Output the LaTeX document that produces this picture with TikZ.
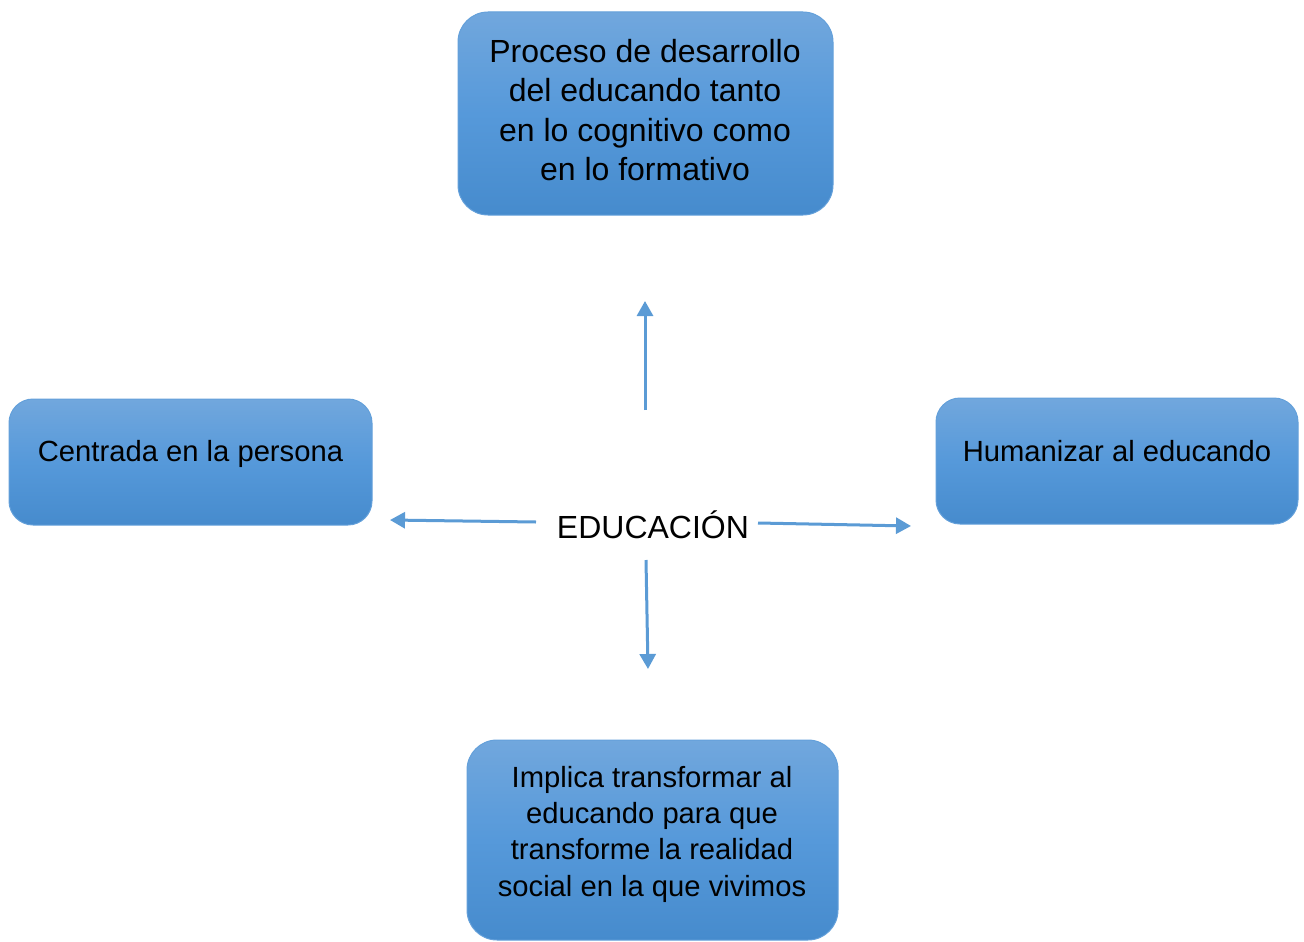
\documentclass[tikz,border=0pt]{standalone}
\usepackage{fontspec}
\setmainfont{Liberation Sans}
\usetikzlibrary{arrows.meta}
\definecolor{boxtop}{RGB}{113,167,221}
\definecolor{boxmid}{RGB}{86,153,218}
\definecolor{boxbot}{RGB}{70,139,205}
\definecolor{boxline}{RGB}{100,160,218}
\definecolor{arrowblue}{RGB}{91,155,213}
\tikzset{
  bluebox/.style={draw=boxline, line width=1pt, rounded corners=#1, top color=boxtop, bottom color=boxbot, middle color=boxmid, inner sep=0pt},
  bigtext/.style={align=center, font=\fontsize{32}{39.3}\selectfont, inner sep=0pt},
  smalltext/.style={align=center, font=\fontsize{29.2}{36.3}\selectfont, inner sep=0pt},
  conn/.style={draw=arrowblue, line width=3pt, -{Triangle[length=15pt,width=16pt]}}
}
\begin{document}
\begin{tikzpicture}[x=1pt,y=-1pt]
\useasboundingbox (0,0) rectangle (1304,942);
% boxes
\node[bluebox=30pt, minimum width=375pt, minimum height=203pt] (topbox) at (645.5,113.5) {};
\node[bluebox=24pt, minimum width=363pt, minimum height=126pt] (leftbox) at (190.5,462) {};
\node[bluebox=24pt, minimum width=362pt, minimum height=126pt] (rightbox) at (1117,461) {};
\node[bluebox=30pt, minimum width=371pt, minimum height=200pt] (botbox) at (652.5,840) {};
% texts
\node[bigtext] (toptext) at (645,110) {Proceso de desarrollo\\del educando tanto\\en lo cognitivo como\\en lo formativo};
\node[smalltext] (lefttext) at (190.5,454) {Centrada en la persona};
\node[smalltext] (righttext) at (1117,451.5) {Humanizar al educando};
\node[smalltext] (bottext) at (652,834) {Implica transformar al\\educando para que\\transforme la realidad\\social en la que vivimos};
\node[font=\fontsize{32}{38}\selectfont, inner sep=0pt] (edu) at (653,525) {EDUCACIÓN};
% arrow ends
\coordinate (upA) at (645,410);
\coordinate (upB) at (645,301);
\coordinate (leftA) at (536,522);
\coordinate (leftB) at (390,520);
\coordinate (rightA) at (758,523);
\coordinate (rightB) at (911,526);
\coordinate (downA) at (646,560);
\coordinate (downB) at (648,669);
\draw[conn] (upA) -- (upB);
\draw[conn] (leftA) -- (leftB);
\draw[conn] (rightA) -- (rightB);
\draw[conn] (downA) -- (downB);
\end{tikzpicture}
\end{document}
